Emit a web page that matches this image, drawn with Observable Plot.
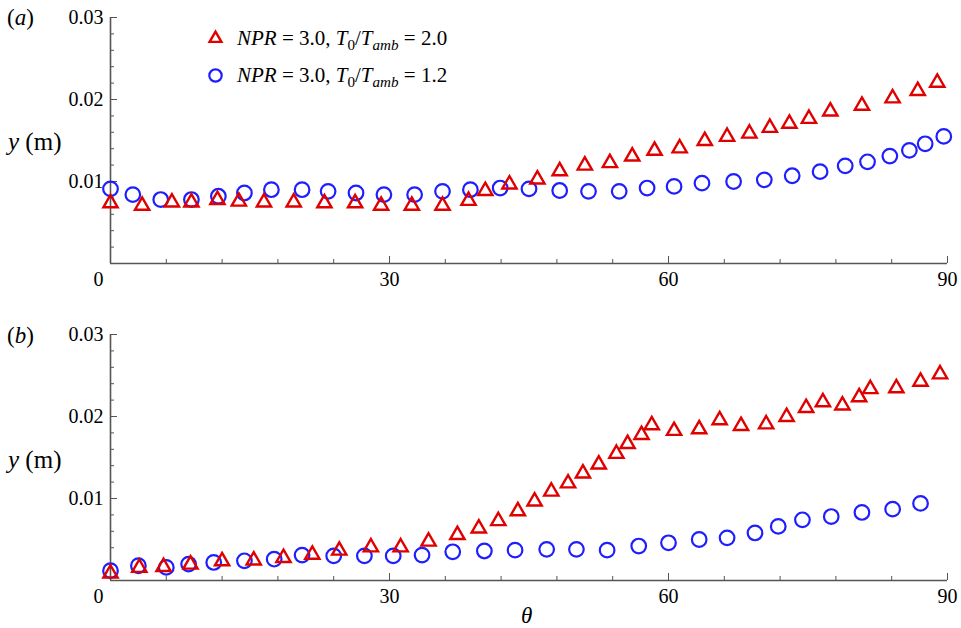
<!DOCTYPE html>
<html>
<head>
<meta charset="utf-8">
<script src="https://cdn.jsdelivr.net/npm/d3@7"></script>
<script src="https://cdn.jsdelivr.net/npm/@observablehq/plot@0.6"></script>
<style>
  body { margin: 0; background: #fff; }
  #wrap { position: relative; width: 961px; height: 628px; font-family: "Liberation Serif", "Times New Roman", serif; color: #000; }
  #wrap svg { position: absolute; left: 0; }
  #wrap svg text { font-family: "Liberation Serif", "Times New Roman", serif; }
  .lab { position: absolute; white-space: nowrap; line-height: 1; }
  .leg { position: absolute; white-space: nowrap; line-height: 1; font-size: 21px; }
  .leg sub { font-size: 0.72em; vertical-align: -0.3em; }
</style>
</head>
<body>
<div id="wrap"></div>
<script>
// ---- data (θ in degrees, y in metres) ----
const thetaA_tri = [0, 3.4, 6.6, 8.7, 11.5, 13.8, 16.5, 19.7, 23.0, 26.3, 29.1, 32.4, 35.7, 38.5, 40.3, 42.9, 45.9, 48.3, 51.0, 53.7, 56.1, 58.5, 61.2, 63.9, 66.3, 68.7, 70.9, 73.0, 75.1, 77.4, 80.8, 84.1, 86.8, 88.9];
const yA_tri     = [0.0076, 0.0073, 0.0077, 0.0077, 0.0080, 0.0078, 0.0077, 0.0077, 0.0076, 0.0076, 0.0073, 0.0073, 0.0073, 0.0079, 0.0091, 0.0099, 0.0105, 0.0115, 0.0122, 0.0125, 0.0133, 0.0140, 0.0143, 0.0152, 0.0157, 0.0161, 0.0168, 0.0173, 0.0179, 0.0188, 0.0195, 0.0204, 0.0213, 0.0223];

const thetaA_cir = [0, 2.4, 5.4, 8.7, 11.6, 14.4, 17.3, 20.6, 23.4, 26.4, 29.4, 32.7, 35.7, 38.7, 41.9, 45.0, 48.3, 51.4, 54.7, 57.7, 60.6, 63.6, 67.0, 70.3, 73.3, 76.3, 79.0, 81.4, 83.8, 85.9, 87.6, 89.6];
const yA_cir     = [0.0091, 0.0084, 0.0078, 0.0078, 0.0082, 0.0086, 0.0090, 0.0090, 0.0088, 0.0086, 0.0084, 0.0084, 0.0088, 0.0090, 0.0092, 0.0091, 0.0089, 0.0088, 0.0088, 0.0092, 0.0094, 0.0098, 0.0100, 0.0102, 0.0107, 0.0112, 0.0119, 0.0124, 0.0131, 0.0138, 0.0146, 0.0155];

const thetaB_tri = [0, 3.1, 5.7, 8.6, 12.0, 15.4, 18.6, 21.7, 24.6, 28.0, 31.2, 34.2, 37.3, 39.6, 41.7, 43.8, 45.6, 47.4, 49.2, 50.8, 52.5, 54.4, 55.6, 57.1, 58.2, 60.6, 63.3, 65.5, 67.8, 70.5, 72.7, 74.8, 76.6, 78.7, 80.5, 81.7, 84.5, 87.1, 89.2];
const yB_tri     = [0.0011, 0.0018, 0.0019, 0.0022, 0.0026, 0.0027, 0.0030, 0.0034, 0.0039, 0.0043, 0.0043, 0.0050, 0.0058, 0.0066, 0.0075, 0.0087, 0.0099, 0.0111, 0.0121, 0.0133, 0.0144, 0.0157, 0.0169, 0.0180, 0.0192, 0.0185, 0.0187, 0.0198, 0.0191, 0.0193, 0.0202, 0.0213, 0.0220, 0.0216, 0.0226, 0.0236, 0.0237, 0.0245, 0.0254];

const thetaB_cir = [0, 3.0, 6.0, 8.4, 11.1, 14.4, 17.6, 20.6, 24.0, 27.3, 30.4, 33.5, 36.8, 40.2, 43.5, 46.9, 50.1, 53.4, 56.8, 60.0, 63.3, 66.3, 69.3, 71.8, 74.4, 77.5, 80.8, 84.1, 87.1];
const yB_cir     = [0.0012, 0.0018, 0.0016, 0.0020, 0.0022, 0.0024, 0.0026, 0.0031, 0.0030, 0.0030, 0.0030, 0.0031, 0.0035, 0.0036, 0.0037, 0.0038, 0.0038, 0.0037, 0.0042, 0.0046, 0.0050, 0.0052, 0.0058, 0.0066, 0.0074, 0.0078, 0.0083, 0.0087, 0.0094];

const yMajorTicks = [0.01, 0.02, 0.03];
const yTickLabels = ["0.01", "0.02", "0.03"];
const yMinorTicks = [0.002, 0.004, 0.006, 0.008, 0.012, 0.014, 0.016, 0.018, 0.022, 0.024, 0.026, 0.028];
const xMajorTicks = [30, 60, 90];
const xMinorTicks = [6, 12, 18, 24, 36, 42, 48, 54, 66, 72, 78, 84];
const seriesLabels = ["2.0", "1.2"];

// ---- styles ----
const RED = "#e00000", BLUE = "#1e1eff", AXIS = "#555";
const FONT = '"Liberation Serif", "Times New Roman", serif';

function pts(xs, ys) { return xs.map((x, i) => ({x, y: ys[i]})); }

function panel({tri, cir, height, marginTop, marginBottom, legend}) {
  const marks = [
    Plot.axisY({ticks: yMinorTicks, tickSize: -4, text: null, stroke: AXIS, label: null}),
    Plot.axisY({ticks: yMajorTicks, tickSize: -7, stroke: AXIS, tickPadding: 14,
      tickFormat: d => yTickLabels[yMajorTicks.indexOf(d)], fontSize: 20, label: null}),
    Plot.axisX({ticks: xMinorTicks, tickSize: -4, text: null, stroke: AXIS, label: null}),
    Plot.axisX({ticks: xMajorTicks, tickSize: -7, stroke: AXIS, tickPadding: 15, fontSize: 20, label: null}),
    Plot.axisX({ticks: [0], tickSize: 0, tickPadding: 8, dx: -12, fontSize: 20, label: null}),
    Plot.ruleX([0], {stroke: AXIS, strokeWidth: 1.6}),
    Plot.ruleY([0], {stroke: AXIS, strokeWidth: 1.6}),
    Plot.dot(cir, {x: "x", y: "y", symbol: "circle", r: 7.3, stroke: BLUE, strokeWidth: 2.2, fill: "none"}),
    Plot.dot(tri, {x: "x", y: "y", symbol: "triangle", r: 5.3, stroke: RED, strokeWidth: 2.4, fill: "none", dy: 2})
  ];
  if (legend) {
    marks.push(
      Plot.dot([seriesLabels[0]], {frameAnchor: "top-left", dx: 105, dy: 21, symbol: "triangle", r: 4.4, stroke: RED, strokeWidth: 2.4, fill: "none"}),
      Plot.dot([seriesLabels[1]], {frameAnchor: "top-left", dx: 105, dy: 58, symbol: "circle", r: 6.2, stroke: BLUE, strokeWidth: 2.2, fill: "none"})
    );
  }
  return Plot.plot({
    width: 961, height, marginLeft: 110, marginRight: 14, marginTop, marginBottom,
    style: {fontFamily: FONT, fontSize: "20px", color: "#000", background: "transparent", overflow: "visible"},
    x: {domain: [0, 90]},
    y: {domain: [0, 0.03]},
    marks
  });
}

const wrap = document.getElementById("wrap");
const svgA = panel({tri: pts(thetaA_tri, yA_tri), cir: pts(thetaA_cir, yA_cir), height: 300, marginTop: 17, marginBottom: 37, legend: true});
svgA.style.top = "0px";
const svgB = panel({tri: pts(thetaB_tri, yB_tri), cir: pts(thetaB_cir, yB_cir), height: 328, marginTop: 34, marginBottom: 48, legend: false});
svgB.style.top = "300px";
wrap.appendChild(svgA);
wrap.appendChild(svgB);

function addLabel(html, left, top, size, cls = "lab") {
  const d = document.createElement("div");
  d.className = cls;
  d.innerHTML = html;
  d.style.left = left + "px";
  d.style.top = top + "px";
  if (size) d.style.fontSize = size + "px";
  wrap.appendChild(d);
}
addLabel("(<i>a</i>)", 7, 6, 23);
addLabel("(<i>b</i>)", 7, 324, 23);
addLabel("<i>y</i> (m)", 8, 129, 25);
addLabel("<i>y</i> (m)", 8, 447, 25);
addLabel("<i>θ</i>", 521, 604, 23);
addLabel(`<i>NPR</i> = 3.0, <i>T</i><sub>0</sub>/<i>T</i><sub><i>amb</i></sub> = ${seriesLabels[0]}`, 237, 28, null, "leg");
addLabel(`<i>NPR</i> = 3.0, <i>T</i><sub>0</sub>/<i>T</i><sub><i>amb</i></sub> = ${seriesLabels[1]}`, 237, 65, null, "leg");
</script>
</body>
</html>
